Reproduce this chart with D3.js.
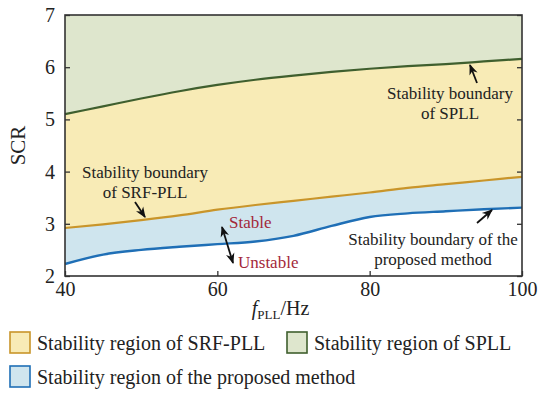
<!DOCTYPE html>
<html>
<head>
<meta charset="utf-8">
<script src="https://cdn.jsdelivr.net/npm/d3@7"></script>
<style>
  body { margin: 0; background: #fff; }
  text { font-family: "Liberation Serif", "Times New Roman", serif; }
</style>
</head>
<body>
<script>
// frequency points (Hz)
var freqs = [40, 45, 50, 55, 60, 65, 70, 75, 80, 85, 90, 95, 100];
// SCR boundaries
var spll     = [5.10, 5.25, 5.40, 5.54, 5.66, 5.76, 5.84, 5.91, 5.97, 6.02, 6.06, 6.11, 6.16];
var srfpll   = [2.92, 2.99, 3.07, 3.16, 3.27, 3.36, 3.44, 3.52, 3.60, 3.69, 3.76, 3.83, 3.90];
var proposed = [2.23, 2.41, 2.50, 2.56, 2.61, 2.66, 2.77, 2.96, 3.13, 3.20, 3.24, 3.28, 3.31];
var xTicks = [40, 60, 80, 100];
var yTicks = [2, 3, 4, 5, 6, 7];
var legendItems = ["Stability region of SRF-PLL", "Stability region of SPLL", "Stability region of the proposed method"];

var W = 550, H = 399;
var plotL = 65, plotR = 522, plotT = 15, plotB = 276;

var svg = d3.select("body").append("svg")
  .attr("width", W)
  .attr("height", H);

var x = d3.scaleLinear().domain([40, 100]).range([plotL, plotR]);
var y = d3.scaleLinear().domain([2, 7]).range([plotB, plotT]);

var rows = freqs.map(function(f, i) {
  return {f: f, spll: spll[i], srf: srfpll[i], prop: proposed[i]};
});

var curve = d3.curveMonotoneX;

// regions
function band(lo, hi) {
  return d3.area()
    .x(function(d) { return x(d.f); })
    .y0(function(d) { return lo(d); })
    .y1(function(d) { return hi(d); })
    .curve(curve);
}
svg.append("path").datum(rows)
  .attr("d", band(function(d) { return y(d.spll); }, function() { return y(7); }))
  .attr("fill", "#dee6cd");
svg.append("path").datum(rows)
  .attr("d", band(function(d) { return y(d.srf); }, function(d) { return y(d.spll); }))
  .attr("fill", "#f8ebb6");
svg.append("path").datum(rows)
  .attr("d", band(function(d) { return y(d.prop); }, function(d) { return y(d.srf); }))
  .attr("fill", "#cfe5ee");

// boundary lines
function line(key) {
  return d3.line()
    .x(function(d) { return x(d.f); })
    .y(function(d) { return y(d[key]); })
    .curve(curve);
}
svg.append("path").datum(rows).attr("d", line("spll"))
  .attr("fill", "none").attr("stroke", "#3f5f2e").attr("stroke-width", 2.2);
svg.append("path").datum(rows).attr("d", line("srf"))
  .attr("fill", "none").attr("stroke", "#c9952a").attr("stroke-width", 2.2);
svg.append("path").datum(rows).attr("d", line("prop"))
  .attr("fill", "none").attr("stroke", "#1f6fb6").attr("stroke-width", 2.4);

// axes
var gx = svg.append("g").attr("transform", "translate(0," + plotB + ")")
  .call(d3.axisBottom(x).tickValues(xTicks).tickFormat(d3.format("d")).tickSize(-5).tickPadding(6).tickSizeOuter(0));
var gy = svg.append("g").attr("transform", "translate(" + plotL + ",0)")
  .call(d3.axisLeft(y).tickValues(yTicks).tickFormat(d3.format("d")).tickSize(-5).tickPadding(10).tickSizeOuter(0));
var gr = svg.append("g").attr("transform", "translate(" + plotR + ",0)")
  .call(d3.axisRight(y).tickValues(yTicks).tickSize(-5).tickFormat("").tickSizeOuter(0));
[gx, gy, gr].forEach(function(g) {
  g.selectAll(".domain").remove();
  g.selectAll("line").attr("stroke", "#333").attr("stroke-width", 1.3);
  g.selectAll("text").attr("font-family", "Liberation Serif").attr("font-size", 20).attr("fill", "#222");
});

// frame
svg.append("rect")
  .attr("x", plotL).attr("y", plotT)
  .attr("width", plotR - plotL).attr("height", plotB - plotT)
  .attr("fill", "none").attr("stroke", "#333").attr("stroke-width", 1.6);

// axis labels
svg.append("text")
  .attr("transform", "translate(25," + ((plotT + plotB) / 2) + ") rotate(-90)")
  .attr("text-anchor", "middle")
  .attr("font-size", 21).attr("fill", "#222")
  .text("SCR");

var xl = svg.append("text")
  .attr("x", (plotL + plotR) / 2 - 13).attr("y", 315)
  .attr("text-anchor", "middle")
  .attr("font-size", 20).attr("fill", "#222");
xl.append("tspan").attr("font-style", "italic").text("f");
xl.append("tspan").attr("font-size", 13).attr("dy", 4).text("PLL");
xl.append("tspan").attr("dy", -4).text("/Hz");

// annotations
var defs = svg.append("defs");
defs.append("marker").attr("id", "ah")
  .attr("viewBox", "0 0 10 10").attr("refX", 9).attr("refY", 5)
  .attr("markerWidth", 6).attr("markerHeight", 6)
  .attr("orient", "auto-start-reverse")
  .append("path").attr("d", "M0,1 L10,5 L0,9 L3,5 Z").attr("fill", "#111");

function note(lines, cx, by, size, color) {
  var t = svg.append("text").attr("text-anchor", "middle")
    .attr("font-size", size).attr("fill", color || "#222");
  lines.forEach(function(s, i) {
    t.append("tspan").attr("x", cx).attr("y", by + i * 19.5).text(s);
  });
}
function arrow(x1, y1, x2, y2, both) {
  var a = svg.append("line")
    .attr("x1", x1).attr("y1", y1).attr("x2", x2).attr("y2", y2)
    .attr("stroke", "#111").attr("stroke-width", 1.8)
    .attr("marker-end", "url(#ah)");
  if (both) a.attr("marker-start", "url(#ah)");
}

note(["Stability boundary", "of SRF-PLL"], 145, 178, 17);
arrow(135, 202, 145, 217);

note(["Stability boundary", "of SPLL"], 450, 99, 17);
arrow(477, 83, 470, 65);

note(["Stability boundary of the", "proposed method"], 433, 245, 17);
arrow(477, 223, 492, 210);

svg.append("text").attr("x", 229).attr("y", 228)
  .attr("font-size", 17).attr("fill", "#a3283a").text("Stable");
svg.append("text").attr("x", 238).attr("y", 268)
  .attr("font-size", 17).attr("fill", "#a3283a").text("Unstable");
arrow(222, 227, 233, 263, true);

// legend
var legendFill = ["#f8ebb6", "#dee6cd", "#cfe5ee"];
var legendStroke = ["#c9952a", "#3f5f2e", "#1f6fb6"];
var legendPos = [[10, 332], [287, 332], [10, 366]];

var lg = svg.append("g").selectAll("g")
  .data(legendItems)
  .enter().append("g")
  .attr("transform", function(d, i) { return "translate(" + legendPos[i][0] + "," + legendPos[i][1] + ")"; });
lg.append("rect")
  .attr("width", 20).attr("height", 21)
  .attr("fill", function(d, i) { return legendFill[i]; })
  .attr("stroke", function(d, i) { return legendStroke[i]; })
  .attr("stroke-width", 1.6);
lg.append("text")
  .attr("x", 27).attr("y", 18)
  .attr("font-size", 20).attr("fill", "#222")
  .text(function(d) { return d; });
</script>
</body>
</html>
